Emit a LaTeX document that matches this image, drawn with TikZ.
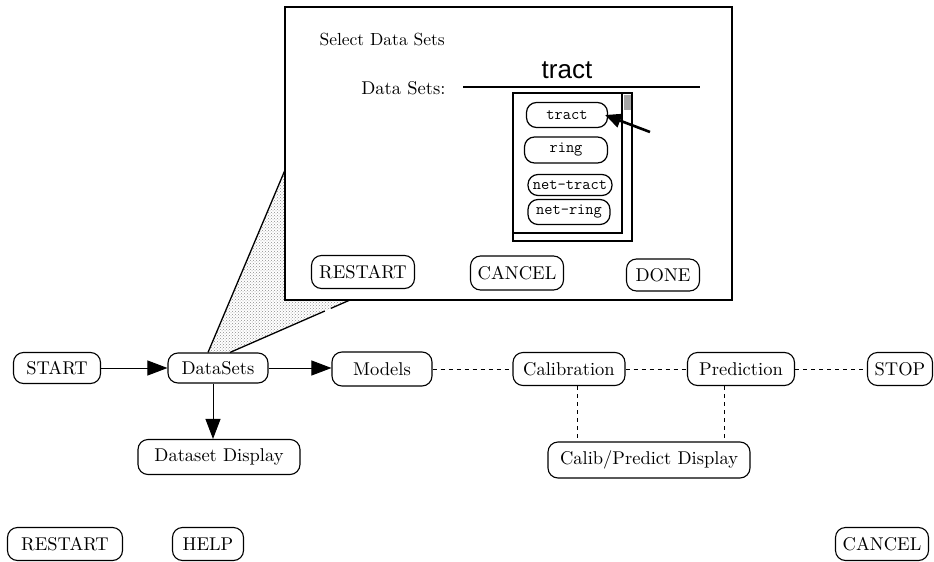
\documentclass[tikz,border=0pt]{standalone}
\usepackage{fontspec}
\setmainfont{lmroman10-regular.otf}
\setsansfont{Liberation Sans}
\usetikzlibrary{arrows.meta,calc,patterns}
\tikzset{
  lbl/.style={font=\fontsize{18.5}{21}\selectfont},
  stbox/.style={draw, line width=1.1pt, rounded corners=10pt, inner sep=0pt, lbl, fill=white},
  itembox/.style={draw, line width=1.2pt, rounded corners=10pt, inner sep=0pt,
    font=\ttfamily\fontsize{16}{18}\selectfont},
  flow/.style={line width=0.9pt, -{Triangle[length=20pt,width=15pt]}},
  link/.style={line width=0.9pt, dash pattern=on 4pt off 4pt},
}
\begin{document}
\begin{tikzpicture}[x=1pt,y=-1pt]
\useasboundingbox (0,0) rectangle (934,562);

% main flow
\node[stbox, minimum width=87pt, minimum height=31pt] (start) at (57,368) {START};
\node[stbox, minimum width=100pt, minimum height=30pt] (datasets) at (218,368) {DataSets};
\node[stbox, minimum width=100pt, minimum height=34pt] (models) at (382,369) {Models};
\node[stbox, minimum width=112pt, minimum height=33pt] (calib) at (569,369) {Calibration};
\node[stbox, minimum width=107pt, minimum height=33pt] (pred) at (741,369) {Prediction};
\node[stbox, minimum width=65pt, minimum height=33pt] (stop) at (900,369) {STOP};
\node[stbox, minimum width=162pt, minimum height=35pt] (dsdisp) at (219,457) {Dataset Display};
\node[stbox, minimum width=202pt, minimum height=36pt] (cpdisp) at (649,460) {Calib/Predict Display};

\draw[flow] (start) -- (datasets);
\draw[flow] (datasets.east) -- (models.west |- datasets.east);
\draw[flow] (datasets.south -| 213,0) -- (dsdisp.north -| 213,0);
\draw[link] (models) -- (calib);
\draw[link] (calib) -- (pred);
\draw[link] (pred) -- (stop);
\draw[link] (calib.south -| 577,0) -- (cpdisp.north -| 577,0);
\draw[link] (pred.south -| 724,0) -- (cpdisp.north -| 724,0);

% bottom buttons
\node[stbox, minimum width=115pt, minimum height=33pt] (brestart) at (65,544) {RESTART};
\node[stbox, minimum width=71pt, minimum height=33pt] (bhelp) at (208,544) {HELP};
\node[stbox, minimum width=93pt, minimum height=33pt] (bcancel) at (882,544) {CANCEL};

% callout wedge from DataSets to the dialog
\coordinate (wl) at ($(datasets.north)+(-10,0)$);
\coordinate (wr) at ($(datasets.north)+(12,0)$);
\coordinate (pa) at (285,170);
\coordinate (pb) at (350,300);
\fill[pattern=crosshatch dots, pattern color=black!45] (wl) -- (pa) -- (285,300) -- (pb) -- (wr) -- cycle;
\draw[line width=1.3pt] (wl) -- (pa);
\path (wr) -- coordinate[pos=0.79] (g1) coordinate[pos=0.84] (g2) (pb);
\draw[line width=1.3pt] (wr) -- (g1) (g2) -- (pb);

% dialog
\node[draw, fill=white, line width=1.6pt, minimum width=447pt, minimum height=293pt, inner sep=0pt] (popup) at (508.5,153.5) {};
\node[anchor=west, font=\fontsize{17.5}{20}\selectfont] (title) at (316,40) {Select Data Sets};
\node[anchor=east, lbl] (dslabel) at (449,88) {Data Sets:};
\coordinate (fa) at (463,87);
\coordinate (fb) at (700,87);
\draw[line width=1.3pt] (fa) -- (fb);
\node[font=\sffamily\fontsize{26}{28}\selectfont] (field) at (567,70) {tract};

% list with scroll bar
\draw[line width=1.2pt] (513,93) rectangle (632,241);
\draw[line width=1.2pt] (622,93) -- (622,233) -- (513,233);
\fill[black!35] (623.5,95) rectangle (630.5,110);
\node[itembox, minimum width=81pt, minimum height=25pt] (itract) at (567,115) {tract};
\node[itembox, minimum width=83pt, minimum height=26pt] (iring) at (566,150) {ring};
\node[itembox, minimum width=84pt, minimum height=21pt] (inettract) at (570,185) {net-tract};
\node[itembox, minimum width=82pt, minimum height=25pt] (inetring) at (569,212) {net-ring};
\coordinate (ptail) at (650,132);
\draw[line width=2.6pt, -{Triangle[length=16pt,width=14pt]}] (ptail) -- ($(itract.east)+(-3,0)$);

% dialog buttons
\node[stbox, minimum width=103pt, minimum height=33pt] (prestart) at (363,272) {RESTART};
\node[stbox, minimum width=93pt, minimum height=34pt] (pcancel) at (517,273) {CANCEL};
\node[stbox, minimum width=73pt, minimum height=32pt] (pdone) at (663,275) {DONE};
\end{tikzpicture}
\end{document}
